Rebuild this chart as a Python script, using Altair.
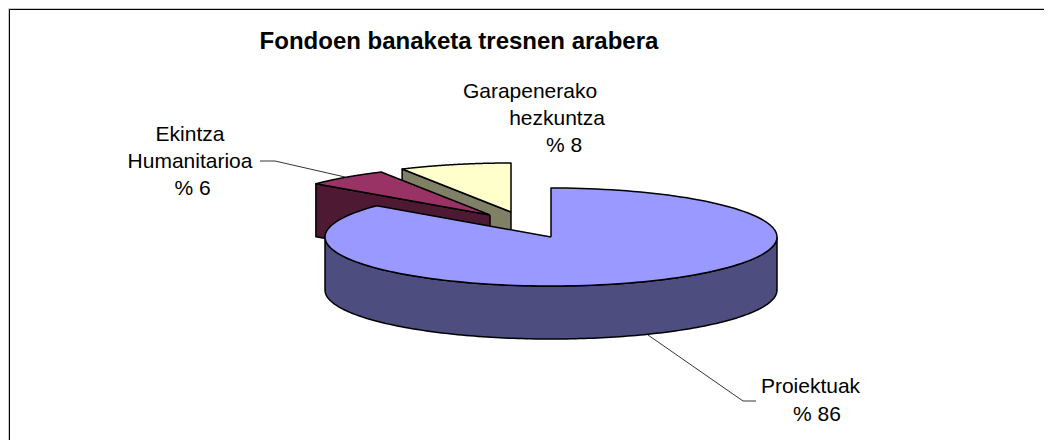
import numpy as np
import pandas as pd
import altair as alt

# --- chart values
categories = ["Proiektuak", "Ekintza Humanitarioa", "Garapenerako hezkuntza"]
shares = [86, 6, 8]
title_text = "Fondoen banaketa tresnen arabera"

# --- look of the pie
top_colors = ["#9999FF", "#993366", "#FFFFCC"]
side_colors = ["#4D4D80", "#4D1933", "#808066"]
centres = [(551, 237), (490, 215), (511, 212)]
RX, RY, DEPTH = 226, 49, 53

W, H = 1036, 432
x_scale = alt.Scale(domain=[8, 8 + W], range=[0, W], nice=False, zero=False)
y_scale = alt.Scale(domain=[8, 8 + H], range=[0, H], nice=False, zero=False)
X = alt.X("x:Q", scale=x_scale, axis=None)
Y = alt.Y("y:Q", scale=y_scale, axis=None)


def ell(c, deg, dy=0):
    a = np.radians(deg)
    return c[0] + RX * np.sin(a), c[1] - RY * np.cos(a) + dy


def path(points):
    df = pd.DataFrame(points, columns=["x", "y"])
    df["i"] = range(len(df))
    return df


def polygon(points, fill, sw=1.5):
    return alt.Chart(path(points)).mark_line(
        fill=fill, stroke="black", strokeWidth=sw, strokeJoin="round", clip=False
    ).encode(x=X, y=Y, order="i:Q")


def leader(points, color="black", sw=0.8):
    return alt.Chart(path(points)).mark_line(stroke=color, strokeWidth=sw).encode(
        x=X, y=Y, order="i:Q"
    )


def text_layer(rows, size, bold=False):
    df = pd.DataFrame(rows, columns=["x", "y", "t"])
    return alt.Chart(df).mark_text(
        font="Liberation Sans", fontSize=size, fontWeight="bold" if bold else "normal",
        color="black", align="center", baseline="alphabetic",
    ).encode(x=X, y=Y, text="t:N")


# angles of the slices, clockwise from the top, in the order of `shares`
edges = np.cumsum([0] + shares) * 3.6
layers = []

# frame: only its top and left sides fall inside the picture
layers.append(leader([(8.5, 440), (8.5, 8.5), (1044, 8.5)], color="#c8c8c8", sw=1))
layers.append(leader([(9.5, 440), (9.5, 9.5), (1044, 9.5)], color="black", sw=1))


def wedge(idx):
    c = centres[idx]
    degs = np.linspace(edges[idx], edges[idx + 1], 160)
    return [c] + [ell(c, d) for d in degs] + [c]


# back slices first: each shows its radial side face, then its top
for idx in [2, 1]:
    c = centres[idx]
    s = ell(c, edges[idx])
    face = [c, s, (s[0], s[1] + DEPTH), (c[0], c[1] + DEPTH), c]
    layers.append(polygon(face, side_colors[idx]))
    layers.append(polygon(wedge(idx), top_colors[idx]))

# main slice: front wall, then top
c = centres[0]
front = np.linspace(90, 270, 160)
wall = [ell(c, d) for d in front] + [ell(c, d, DEPTH) for d in front[::-1]]
wall.append(wall[0])
layers.append(polygon(wall, side_colors[0]))
layers.append(polygon(wedge(0), top_colors[0]))

layers.append(leader([(260, 161), (275, 161), (345, 177)]))
layers.append(leader([(648, 335), (743, 401), (756, 401)]))

layers.append(text_layer([(459, 49, title_text)], 24, bold=True))
layers.append(text_layer([
    (530, 98, "Garapenerako"), (557, 125, "hezkuntza"), (564, 152, f"% {shares[2]}"),
    (190, 141, "Ekintza"), (190, 168, "Humanitarioa"), (192.5, 195, f"% {shares[1]}"),
    (810.5, 393, categories[0]), (817, 421, f"% {shares[0]}"),
], 21))

chart = alt.layer(*layers).properties(
    width=W, height=H, padding=0,
    autosize=alt.AutoSizeParams(type="none"),
).configure_view(stroke=None)

chart.save("out.html", embed_options={"renderer": "svg", "actions": False})
